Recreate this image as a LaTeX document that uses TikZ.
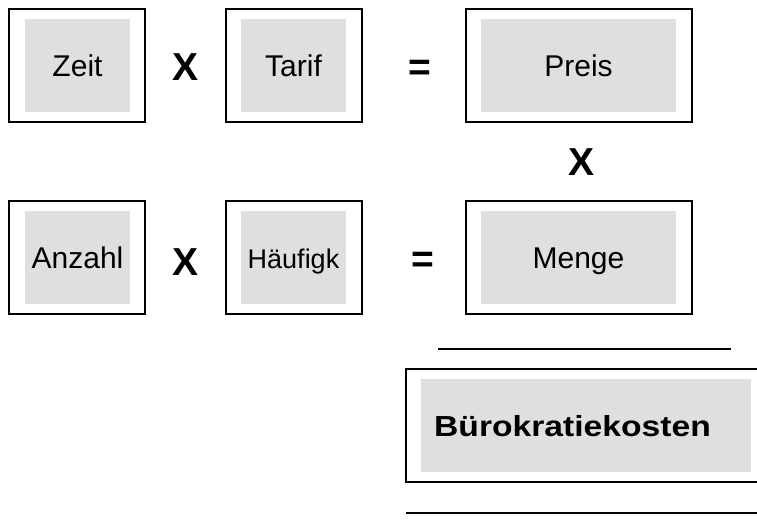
\documentclass[tikz,border=0pt]{standalone}
\usepackage{fontspec}
\setmainfont{Liberation Sans}
\usetikzlibrary{positioning}
\definecolor{boxgray}{HTML}{DFDFDF}
\tikzset{
    outerbox/.style={draw, line width=2pt, inner sep=0pt, minimum width=136pt, minimum height=113pt},
    widebox/.style={outerbox, minimum width=226pt},
    innerbox/.style={fill=boxgray, inner sep=0pt, minimum width=105pt, minimum height=93pt,
        text height=22pt, text depth=0pt, font=\fontsize{30}{36}\selectfont},
    wideinner/.style={innerbox, minimum width=195pt},
    op/.style={inner sep=0pt, font=\fontsize{39}{44}\selectfont\bfseries},
    rule/.style={line width=2pt}
}
\begin{document}
\begin{tikzpicture}[x=1pt,y=-1pt]
\useasboundingbox (0,0) rectangle (757,525);

% first row
\node[outerbox] (zeit) at (77,65.5) {};
\node[innerbox] (zeitIn) at (77.5,65.5) {Zeit};
\node[op] (mal1) at (185.5,67.5) {X};
\node[outerbox] (tarif) at (294,65.5) {};
\node[innerbox] (tarifIn) at (293.5,65.5) {Tarif};
\node[op] (gleich1) at (419.5,70) {=};
\node[widebox] (preis) at (579,65.5) {};
\node[wideinner] (preisIn) at (578.5,65.5) {Preis};

\node[op] (mal3) at (581,162) {X};

% second row
\node[outerbox] (anzahl) at (77,257.5) {};
\node[innerbox] (anzahlIn) at (77.5,257.5) {Anzahl};
\node[op] (mal2) at (185.5,262) {X};
\node[outerbox] (haeufig) at (294,257.5) {};
\node[innerbox, font=\fontsize{27}{32}\selectfont] (haeufigIn) at (293.5,257.5) {Häufigk};
\node[op] (gleich2) at (423,262) {=};
\node[widebox] (menge) at (579,257.5) {};
\node[wideinner] (mengeIn) at (578.5,257.5) {Menge};

% result
\draw[rule] (438,349) -- (731,349);
\node[outerbox, minimum width=364pt] (kosten) at (588,425.5) {};
\node[innerbox, minimum width=330pt, font=\fontsize{29}{34}\selectfont\bfseries] (kostenIn) at (586,425.5) {\scalebox{1.16}[1]{Bürokratiekosten}\hspace*{27pt}};
\draw[rule] (406,513) -- (770,513);
\end{tikzpicture}
\end{document}
